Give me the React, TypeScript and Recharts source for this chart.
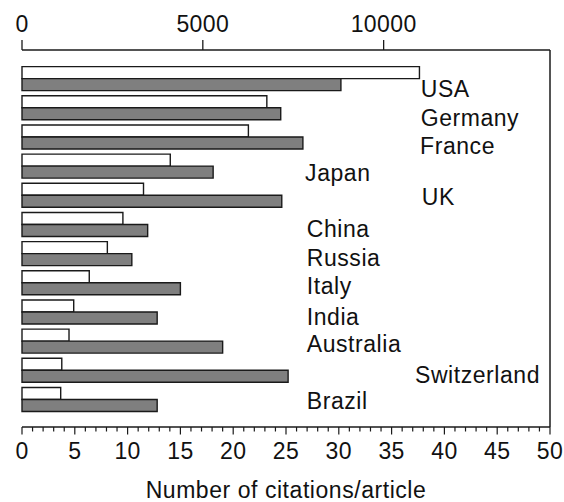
import React from 'react';
import { BarChart, Bar, XAxis, YAxis, ReferenceDot, ReferenceLine } from 'recharts';

const countries = [
  'USA', 'Germany', 'France', 'Japan', 'UK', 'China',
  'Russia', 'Italy', 'India', 'Australia', 'Switzerland', 'Brazil',
];
// white bars, read against the top axis
const articles = [10990, 6770, 6260, 4100, 3360, 2790, 2360, 1860, 1430, 1300, 1100, 1070];
// grey bars, read against the bottom axis
const citationsPerArticle = [30.2, 24.5, 26.6, 18.1, 24.6, 11.9, 10.4, 15.0, 12.8, 19.0, 25.2, 12.8];

const topTicks = [0, 5000, 10000];
const bottomTicks = Array.from({ length: 51 }, (_, i) => i);

// where each country name sits (bottom-axis units) and its baseline shift in px
const labelX = [37.76, 37.76, 37.7, 26.81, 37.86, 26.97, 26.97, 26.97, 26.97, 26.97, 37.22, 26.97];
const labelDy = [18.7, 18.2, 17.3, 14.5, 9.6, 12.7, 12.3, 11.0, 12.9, 11.4, 12.8, 9.6];

const rows = countries.map((country, i) => ({
  country,
  articles: articles[i],
  citations: citationsPerArticle[i],
}));

const FONT = '"Liberation Sans", Arial, sans-serif';
const INK = '#1a1a1a';

function TopTick(props: any) {
  const { x, y, payload } = props;
  return (
    <g>
      <line x1={x} y1={y} x2={x} y2={y - 10} stroke={INK} strokeWidth={1.3} />
      <text x={x} y={y - 18.5} textAnchor="middle" fontSize={23} letterSpacing={0.4} fontFamily={FONT} fill="#111">
        {payload.value}
      </text>
    </g>
  );
}

function BottomTick(props: any) {
  const { x, y, payload } = props;
  const major = payload.value % 5 === 0;
  return (
    <g>
      <line x1={x} y1={y} x2={x} y2={y + (major ? 7.5 : 4.5)} stroke={INK} strokeWidth={1.2} />
      {major && (
        <text x={x} y={y + 32} textAnchor="middle" fontSize={23} letterSpacing={0.4} fontFamily={FONT} fill="#111">
          {payload.value}
        </text>
      )}
    </g>
  );
}

export default function App() {
  return (
    <div style={{ position: 'absolute', left: 0, top: 0, background: '#fff' }}>
      <BarChart
        width={564}
        height={502}
        data={rows}
        layout="vertical"
        margin={{ top: 0, right: 14, bottom: 0, left: 22 }}
        barCategoryGap={2.6}
        barGap={0}
      >
        <XAxis
          xAxisId="top"
          orientation="top"
          type="number"
          domain={[0, 14600]}
          ticks={topTicks}
          interval={0}
          height={50}
          tickSize={0}
          tickMargin={0}
          tickLine={false}
          tick={<TopTick />}
          axisLine={{ stroke: INK, strokeWidth: 1.5 }}
        />
        <XAxis
          xAxisId="bottom"
          orientation="bottom"
          type="number"
          domain={[0, 50]}
          ticks={bottomTicks}
          interval={0}
          height={75}
          tickSize={0}
          tickMargin={0}
          tickLine={false}
          tick={<BottomTick />}
          axisLine={{ stroke: INK, strokeWidth: 1.5 }}
          label={{
            content: (p: any) => {
              const vb = p.viewBox;
              return (
                <text
                  x={vb.x + vb.width / 2}
                  y={vb.y + 71}
                  textAnchor="middle"
                  fontSize={23}
                  letterSpacing={0.55}
                  fontFamily={FONT}
                  fill="#111"
                >
                  Number of citations/article
                </text>
              );
            },
          }}
        />
        <YAxis
          yAxisId="cat"
          type="category"
          dataKey="country"
          width={0}
          tick={false}
          tickLine={false}
          axisLine={{ stroke: INK, strokeWidth: 1.5 }}
          padding={{ top: 14, bottom: 13 }}
        />
        <ReferenceLine
          xAxisId="bottom"
          yAxisId="cat"
          x={50}
          stroke={INK}
          strokeWidth={1.5}
          ifOverflow="visible"
        />
        <Bar
          xAxisId="top"
          yAxisId="cat"
          dataKey="articles"
          fill="#ffffff"
          stroke={INK}
          strokeWidth={1.4}
          isAnimationActive={false}
        />
        <Bar
          xAxisId="bottom"
          yAxisId="cat"
          dataKey="citations"
          fill="#7f7f7f"
          stroke={INK}
          strokeWidth={1.4}
          isAnimationActive={false}
        />
        {countries.map((c, i) => (
          <ReferenceDot
            key={c}
            xAxisId="bottom"
            yAxisId="cat"
            x={labelX[i]}
            y={c}
            r={0}
            ifOverflow="visible"
            shape={(p: any) => (
              <text
                x={p.cx}
                y={p.cy + labelDy[i]}
                fontSize={23}
                letterSpacing={0.55}
                fontFamily={FONT}
                fill="#111"
              >
                {c}
              </text>
            )}
          />
        ))}
      </BarChart>
    </div>
  );
}
